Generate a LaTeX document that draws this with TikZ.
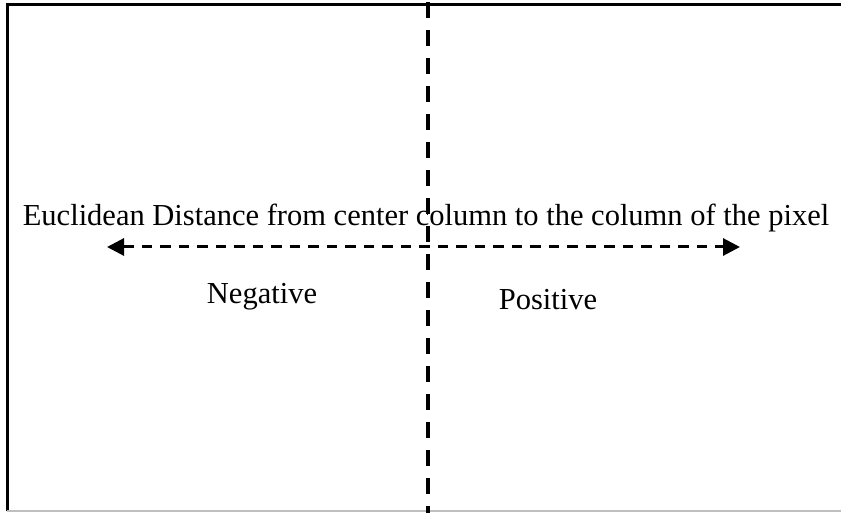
\documentclass[tikz,border=0pt]{standalone}
\usepackage{fontspec}
\setmainfont{Liberation Serif}
\usetikzlibrary{arrows.meta}

\tikzstyle{frame} = [line width = 3pt, draw = black]
\tikzstyle{divider} = [line width = 3.5pt, draw = black, dash pattern = on 16pt off 12pt]
\tikzstyle{axis} = [line width = 3pt, draw = black, dash pattern = on 10.5pt off 8pt, {Triangle[length = 17pt, width = 17pt]}-{Triangle[length = 17pt, width = 17pt]}]
\tikzstyle{lbl} = [font = \fontsize{30.5}{34}\selectfont, inner sep = 0pt]

\begin{document}
\begin{tikzpicture}[x = 1pt, y = -1pt]
        \useasboundingbox (0,0) rectangle (841,513);
        % outer frame
        \coordinate (tl) at (7,5);
        \coordinate (tr) at (841,5);
        \coordinate (bl) at (7,511);
        \coordinate (br) at (841,511);
        \draw [frame] (bl) -- (tl) -- (tr);
        \draw [line width = 2pt, draw = black!25] (bl) -- (br);
        % centre column
        \coordinate (top) at (428,2);
        \coordinate (bottom) at (428,513);
        \draw [divider] (top) -- (bottom);
        % distance axis
        \coordinate (left) at (107,247);
        \coordinate (right) at (740,247);
        \draw [axis] (left) -- (right);
        \node [lbl] (title) at (426,218) {Euclidean Distance from center column to the column of the pixel};
        \node [lbl] (neg) at (262,297) {Negative};
        \node [lbl] (pos) at (548,300) {Positive};
    \end{tikzpicture}
\end{document}
